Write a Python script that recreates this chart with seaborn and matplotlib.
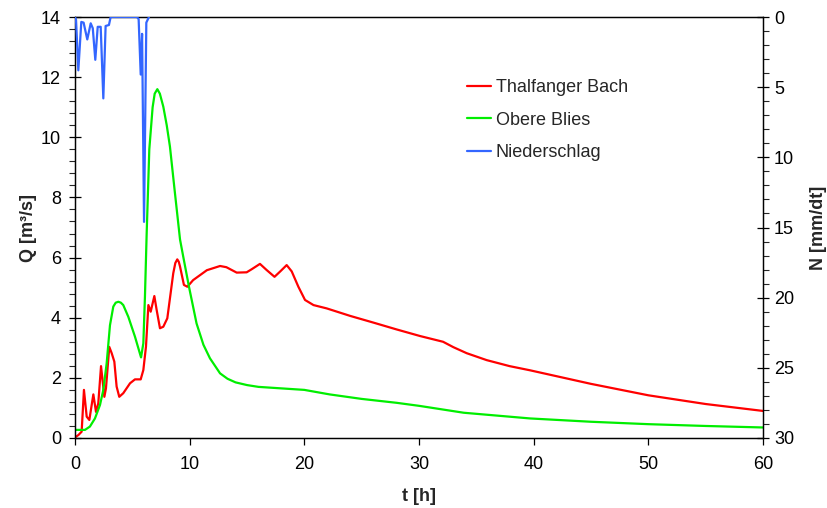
import numpy as np
import pandas as pd
import matplotlib
matplotlib.use("Agg")
import matplotlib.pyplot as plt
import seaborn as sns
from matplotlib.ticker import MultipleLocator

# ---- data ----
t_red = [0, 0.3, 0.58, 0.78, 1.02, 1.25, 1.6, 1.83, 2.03, 2.27, 2.56, 2.7, 2.99, 3.2, 3.43,
         3.63, 3.86, 4.21, 4.8, 5.23, 5.73, 5.96, 6.19, 6.4, 6.6, 6.92, 7.12, 7.41, 7.7, 8.05,
         8.57, 8.75, 8.92, 9.05, 9.16, 9.5, 9.8, 10.3, 11.5, 12.65, 13.2, 14.1, 14.97, 15.4,
         16.13, 16.7, 17.4, 17.9, 18.46, 18.9, 19.48, 20.06, 20.8, 21.95, 24.0, 26.0, 28.05,
         30.1, 32.1, 33.0, 34.16, 35.9, 37.9, 39.7, 45, 50, 55, 60]
q_red = [0.02, 0.1, 0.21, 1.6, 0.71, 0.6, 1.45, 0.87, 1.15, 2.39, 1.37, 1.65, 3.03, 2.82, 2.54,
         1.71, 1.37, 1.49, 1.82, 1.95, 1.95, 2.26, 3.04, 4.42, 4.2, 4.72, 4.26, 3.65, 3.7, 3.98,
         5.48, 5.82, 5.94, 5.86, 5.7, 5.09, 5.03, 5.25, 5.58, 5.72, 5.68, 5.5, 5.51, 5.61,
         5.79, 5.59, 5.36, 5.54, 5.75, 5.54, 5.03, 4.59, 4.42, 4.31, 4.06, 3.84, 3.61,
         3.39, 3.2, 3.02, 2.82, 2.59, 2.39, 2.25, 1.8, 1.42, 1.13, 0.9]

t_green = [0, 0.87, 1.3, 1.74, 2.18, 2.47, 2.76, 3.05, 3.34, 3.55, 3.78, 4.0, 4.21, 4.65,
           5.23, 5.76, 5.96, 6.1, 6.25, 6.48, 6.77, 6.95, 7.18, 7.4, 7.7, 8.0, 8.28, 8.7,
           9.16, 9.44, 9.94, 10.6, 11.2, 11.77, 12.65, 13.3, 14, 15, 16, 18, 20, 22.2, 25,
           28.05, 30, 33.9, 39.7, 45, 50, 55, 60]
q_green = [0.27, 0.27, 0.38, 0.65, 1.1, 1.6, 2.48, 3.75, 4.37, 4.5, 4.53, 4.5, 4.42, 4.03,
           3.37, 2.68, 3.15, 4.7, 6.8, 9.6, 11.0, 11.45, 11.6, 11.45, 11.02, 10.4, 9.69, 8.2,
           6.6, 6.03, 5.03, 3.81, 3.1, 2.65, 2.15, 1.97, 1.85, 1.76, 1.7, 1.65, 1.6, 1.45, 1.3,
           1.17, 1.07, 0.84, 0.65, 0.54, 0.46, 0.4, 0.35]

t_rain = [0.0, 0.09, 0.29, 0.55, 0.75, 1.07, 1.37, 1.55, 1.77, 1.98, 2.24, 2.47, 2.67, 2.96,
          3.11, 5.4, 5.55, 5.73, 5.85, 6.02, 6.22, 6.45]
n_rain = [0.0, 0.2, 3.8, 0.35, 0.4, 1.6, 0.45, 0.8, 3.05, 0.7, 0.7, 5.8, 0.64, 0.57,
          0.0, 0.0, 0.15, 4.1, 1.2, 14.6, 0.4, 0.0]

labels = ["Thalfanger Bach", "Obere Blies", "Niederschlag"]
x_ticks = [0, 10, 20, 30, 40, 50, 60]
q_ticks = [0, 2, 4, 6, 8, 10, 12, 14]
n_ticks = [0, 5, 10, 15, 20, 25, 30]

# ---- style ----
sns.set_style("white")
plt.rcParams["font.family"] = ["Liberation Sans", "DejaVu Sans"]
plt.rcParams["font.size"] = 13

fig = plt.figure(figsize=(8.27, 5.08), dpi=100)
ax = fig.add_axes([75 / 827, 1 - 438 / 508, 688 / 827, 421 / 508])
ax2 = ax.twinx()

df_red = pd.DataFrame({"t": t_red, "Q": q_red})
df_green = pd.DataFrame({"t": t_green, "Q": q_green})
df_rain = pd.DataFrame({"t": t_rain, "N": n_rain})

sns.lineplot(data=df_red, x="t", y="Q", ax=ax, color="#FF0000", linewidth=1.6,
             estimator=None, sort=False, legend=False)
sns.lineplot(data=df_green, x="t", y="Q", ax=ax, color="#00EE00", linewidth=1.6,
             estimator=None, sort=False, legend=False)
sns.lineplot(data=df_rain, x="t", y="N", ax=ax2, color="#3366FF", linewidth=1.6,
             estimator=None, sort=False, legend=False, zorder=3)

ax.set_xlim(0, 60)
ax.set_ylim(0, 14)
ax2.set_ylim(30, 0)
ax.set_xticks(x_ticks)
ax.set_yticks(q_ticks)
ax2.set_yticks(n_ticks)
ax.yaxis.set_minor_locator(MultipleLocator(0.4))
ax2.yaxis.set_minor_locator(MultipleLocator(1))

for a in (ax, ax2):
    for s in a.spines.values():
        s.set_color("black")
        s.set_linewidth(0.9)

ax.tick_params(axis="x", which="major", direction="out", length=5, width=0.9,
               bottom=True, pad=8, labelsize=13, colors="black")
ax.tick_params(axis="y", which="major", direction="inout", length=8, width=0.9,
               left=True, pad=6, labelsize=13, colors="black")
ax.tick_params(axis="y", which="minor", direction="out", length=4, width=0.8, left=True)
ax2.tick_params(axis="y", which="major", direction="inout", length=8, width=0.9,
                right=True, pad=4, labelsize=13, colors="black")
ax2.tick_params(axis="y", which="minor", direction="out", length=4, width=0.8, right=True)

ax.set_xlabel("t [h]", fontweight="bold", fontsize=13, labelpad=11)
ax.set_ylabel("Q [m³/s]", fontweight="bold", fontsize=13, labelpad=3)
ax2.set_ylabel("N [mm/dt]", fontweight="bold", fontsize=13, labelpad=11)

handles = [ax.get_lines()[0], ax.get_lines()[1], ax2.get_lines()[0]]
ax2.legend(handles, labels, frameon=False, loc="upper left",
           bbox_to_anchor=(0.570, 0.853), borderaxespad=0, borderpad=0,
           handlelength=1.33, handletextpad=0.25, labelspacing=0.87, fontsize=13)

fig.savefig("out.png", dpi=100)
